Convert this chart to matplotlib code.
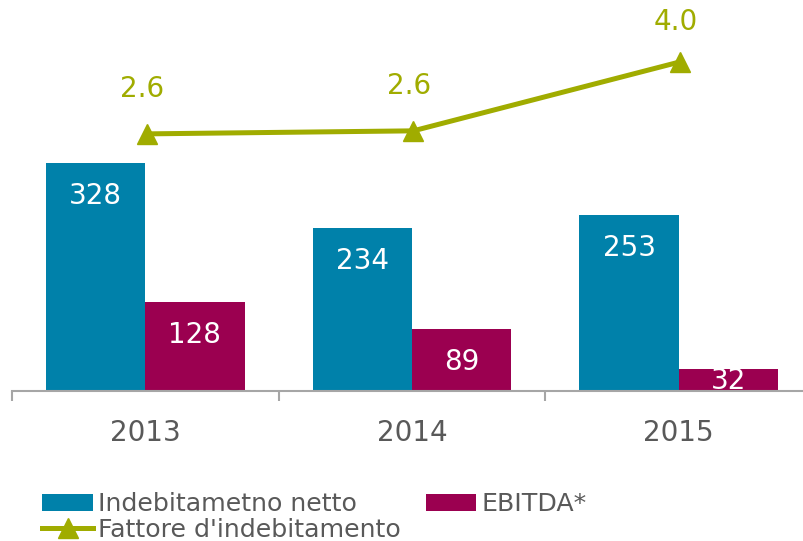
import matplotlib.pyplot as plt
import numpy as np

anni = ['2013', '2014', '2015']
indebitamento = [328, 234, 253]
ebitda = [128, 89, 32]
fattore = [2.58, 2.64, 4.0]
fattore_lbl = ['2.6', '2.6', '4.0']

blu = '#0081AA'
viola = '#9B0050'
oliva = '#A0AC00'
grigio = '#595959'

fig = plt.figure(figsize=(8.04, 5.41), dpi=100)
ax = fig.add_axes([12/804, 150/541, 800/804, 391/541])
x = np.arange(len(anni))
w = 0.372

b1 = ax.bar(x - w/2, indebitamento, w, color=blu, label='Indebitametno netto')
b2 = ax.bar(x + w/2, ebitda, w, color=viola, label='EBITDA*')

# etichette dentro le barre
for xi, v in zip(x - w/2, indebitamento):
    ax.text(xi, max(v - 59, 3), str(v), ha='center', va='baseline', color='white', fontsize=20)
for xi, v in zip(x + w/2, ebitda):
    ax.text(xi, max(v - 59, 3), str(v), ha='center', va='baseline', color='white', fontsize=20)

ax.set_xlim(-0.5, 2.5)
ax.set_ylim(0, 562)
ax.set_yticks([])
for s in ['left', 'right', 'top']:
    ax.spines[s].set_visible(False)
ax.spines['bottom'].set_color('#A6A6A6')
ax.spines['bottom'].set_linewidth(1.5)
ax.set_xticks(x)
ax.set_xticklabels(anni, fontsize=20, color=grigio)
ax.tick_params(axis='x', which='major', length=0, pad=20)
ax.set_xticks([-0.5, 0.5, 1.5, 2.5], minor=True)
ax.tick_params(axis='x', which='minor', length=7.5, width=1.5, color='#A6A6A6')

ax2 = ax.twinx()
ax2.set_ylim(-2.49, 5.22)
ln, = ax2.plot(x + 0.005, fattore, color=oliva, lw=3.6, marker='^', markersize=15,
               label="Fattore d'indebitamento")
for xi, v, t, dy in zip(x, fattore, fattore_lbl, [32, 32, 29]):
    ax2.annotate(t, (xi, v), xytext=(-2, dy), textcoords='offset points',
                 ha='center', va='center', color=oliva, fontsize=20)
ax2.axis('off')

fig.legend(handles=[b1, ln, b2], loc='lower left', bbox_to_anchor=(0.04, -0.02),
           ncol=2, frameon=False, fontsize=18.2, labelcolor=grigio,
           handlelength=2.0, handletextpad=0.2, columnspacing=1.0,
           labelspacing=0.05, borderaxespad=0)

fig.savefig('out.png', dpi=100)
